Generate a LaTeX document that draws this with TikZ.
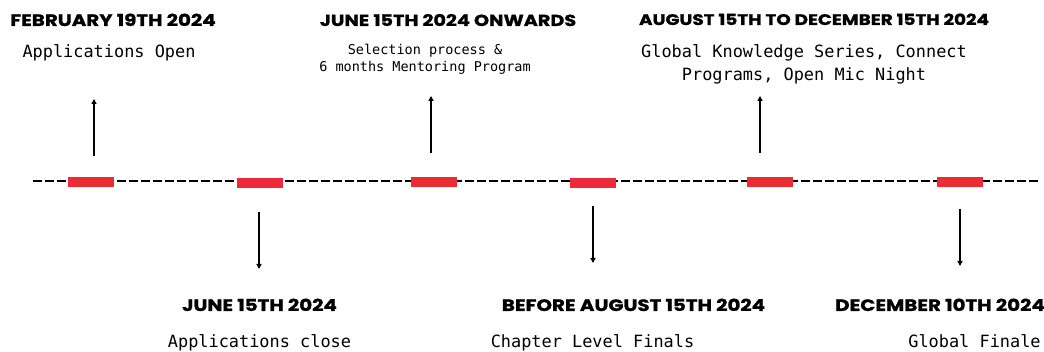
\documentclass[tikz,border=0pt]{standalone}
\usepackage{fontspec}
\newfontfamily\hfont{Poppins}[UprightFont=* Bold, UprightFeatures={FakeStretch=1.2, FakeBold=1.2}]
\newfontfamily\mfont{DejaVu Sans Mono}
\usetikzlibrary{arrows.meta}
\definecolor{barred}{HTML}{EE2A35}
\tikzset{
  bar/.style={fill=barred, draw=none, minimum width=46pt, minimum height=10pt, inner sep=0pt},
  head/.style={font=\hfont\fontsize{16.5}{16.5}\selectfont, anchor=base, inner sep=0pt},
  desc/.style={font=\mfont\fontsize{16.9}{22}\selectfont, anchor=base, inner sep=0pt},
  small/.style={font=\mfont\fontsize{13.5}{17}\selectfont, anchor=base, inner sep=0pt},
  conn/.style={line width=1.5pt, -{Triangle[length=5pt,width=5pt]}},
  axis/.style={line width=2pt, dash pattern=on 9pt off 3pt}
}
\begin{document}
\begin{tikzpicture}[x=1pt,y=-1pt]
\useasboundingbox (0,0) rectangle (1044,352);
\coordinate (L) at (33,181);
\coordinate (R) at (1038,181);
\draw[axis] (L) -- (R);
\node[bar] (b1) at (91,182) {};
\node[bar] (b2) at (260,183) {};
\node[bar] (b3) at (434,182) {};
\node[bar] (b4) at (593,183) {};
\node[bar] (b5) at (770,182) {};
\node[bar] (b6) at (960,182) {};
% arrows
\coordinate (a1s) at (94,156); \coordinate (a1e) at (94,99);
\coordinate (a3s) at (431,153); \coordinate (a3e) at (431,96);
\coordinate (a5s) at (760,153); \coordinate (a5e) at (760,96);
\coordinate (a2s) at (259,212); \coordinate (a2e) at (259,269);
\coordinate (a4s) at (593,206); \coordinate (a4e) at (593,263);
\coordinate (a6s) at (960,209); \coordinate (a6e) at (960,266);
\draw[conn] (a1s) -- (a1e);
\draw[conn] (a3s) -- (a3e);
\draw[conn] (a5s) -- (a5e);
\draw[conn] (a2s) -- (a2e);
\draw[conn] (a4s) -- (a4e);
\draw[conn] (a6s) -- (a6e);
% top texts
\node[head] (h1) at (113,26) {FEBRUARY 19TH 2024};
\node[desc] (d1) at (109,58) {Applications Open};
\node[head, font=\hfont\fontsize{16}{16}\selectfont] (h3) at (448,26) {JUNE 15TH 2024 ONWARDS};
\node[small] (d3a) at (425,55) {Selection process \&};
\node[small] (d3b) at (425,72) {6 months Mentoring Program};
\node[head, font=\hfont\fontsize{15.3}{15.3}\selectfont] (h5) at (814,25) {AUGUST 15TH TO DECEMBER 15TH 2024};
\node[desc] (d5a) at (804,58) {Global Knowledge Series, Connect};
\node[desc] (d5b) at (804,81) {Programs, Open Mic Night};
% bottom texts
\node[head] (h2) at (259.5,311) {JUNE 15TH 2024};
\node[desc] (d2) at (259.5,348) {Applications close};
\node[head] (h4) at (633.5,311) {BEFORE AUGUST 15TH 2024};
\node[desc] (d4) at (592.5,348) {Chapter Level Finals};
\node[head] (h6) at (940,311) {DECEMBER 10TH 2024};
\node[desc] (d6) at (974.5,348) {Global Finale};
\end{tikzpicture}
\end{document}
